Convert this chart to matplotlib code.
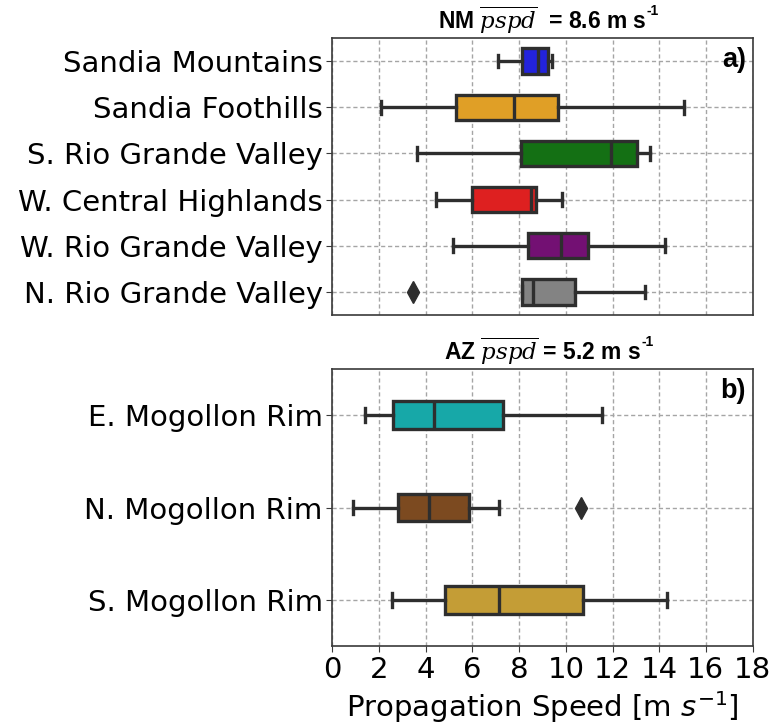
import matplotlib
matplotlib.use("Agg")
import matplotlib.pyplot as plt
from matplotlib import font_manager

# NM regions: whislo, q1, med, q3, whishi, outliers
nm_names = ['Sandia Mountains', 'Sandia Foothills', 'S. Rio Grande Valley',
            'W. Central Highlands', 'W. Rio Grande Valley', 'N. Rio Grande Valley']
nm_lo = [7.1, 2.07, 3.64, 4.42, 5.18, 8.13]
nm_q1 = [8.11, 5.31, 8.06, 5.97, 8.4, 8.13]
nm_med = [8.8, 7.8, 11.93, 8.51, 9.8, 8.58]
nm_q3 = [9.22, 9.67, 13.07, 8.71, 10.93, 10.4]
nm_hi = [9.39, 15.06, 13.61, 9.84, 14.25, 13.4]
nm_out = [[], [], [], [], [], [3.43]]
nm_colors = ['#2323dc', '#e09f26', '#147014', '#de2020', '#731073', '#838383']

az_names = ['E. Mogollon Rim', 'N. Mogollon Rim', 'S. Mogollon Rim']
az_lo = [1.38, 0.86, 2.54]
az_q1 = [2.6, 2.79, 4.81]
az_med = [4.37, 4.12, 7.12]
az_q3 = [7.3, 5.85, 10.72]
az_hi = [11.57, 7.13, 14.32]
az_out = [[], [10.65], []]
az_colors = ['#17a8a8', '#7c4a20', '#c49d36']

xticks = list(range(0, 19, 2))

# bold sans for titles / panel letters (avoid picking a narrow variant)
bold_path = None
for f in font_manager.fontManager.ttflist:
    if f.name == 'Liberation Sans' and f.weight in (700, 'bold') and f.style == 'normal':
        bold_path = f.fname
if bold_path is None:
    bold_path = font_manager.findfont(font_manager.FontProperties(family='Liberation Sans', weight='bold'))

fig = plt.figure(figsize=(7.75, 7.24), dpi=100)
ax1 = fig.add_axes([0.429, 0.565, 0.542, 0.3825])
ax2 = fig.add_axes([0.429, 0.1077, 0.542, 0.3826])


def draw(ax, names, lo, q1, med, q3, hi, out, colors, width):
    stats = []
    for i in range(len(names)):
        stats.append(dict(whislo=lo[i], q1=q1[i], med=med[i], q3=q3[i],
                          whishi=hi[i], fliers=out[i]))
    pos = list(range(len(names)))
    lc = '#2e2e2e'
    bp = ax.bxp(stats, positions=pos, widths=width, vert=False, patch_artist=True,
                boxprops=dict(edgecolor=lc, linewidth=2.4),
                medianprops=dict(color=lc, linewidth=2.4),
                whiskerprops=dict(color=lc, linewidth=2.4),
                capprops=dict(color=lc, linewidth=2.4),
                flierprops=dict(marker='d', markerfacecolor=lc, markeredgecolor=lc,
                                markersize=11))
    for patch, c in zip(bp['boxes'], colors):
        patch.set_facecolor(c)
        patch.set_zorder(3)
    for k in ['medians', 'whiskers', 'caps', 'fliers']:
        for ln in bp[k]:
            ln.set_zorder(4)
    ax.set_ylim(len(names) - 0.5, -0.5)
    ax.set_yticks(pos)
    ax.set_yticklabels(names, fontsize=21)
    ax.set_xlim(0, 18)
    ax.set_xticks(xticks)
    ax.grid(True, linestyle=(0, (3, 2)), color='#a5a5a5', linewidth=1)
    ax.set_axisbelow(True)
    for s in ax.spines.values():
        s.set_color('#3a3a3a')
        s.set_linewidth(1.2)
    ax.tick_params(axis='both', length=4, color='#3a3a3a', pad=3)


draw(ax1, nm_names, nm_lo, nm_q1, nm_med, nm_q3, nm_hi, nm_out, nm_colors, 0.55)
draw(ax2, az_names, az_lo, az_q1, az_med, az_q3, az_hi, az_out, az_colors, 0.3)

ax1.set_xticklabels([])
ax1.tick_params(axis='x', length=0)
ax2.set_xticklabels([str(t) for t in xticks], fontsize=21)
ax2.set_xlabel(r'Propagation Speed [m $s^{-1}$]', fontsize=21, labelpad=4)


def title(ax, txt):
    fp = font_manager.FontProperties(fname=bold_path, size=16.5, math_fontfamily='dejavuserif')
    t = ax.set_title(txt, fontproperties=fp, pad=6)
    ax.annotate('-1', xy=(1.0, 0.6), xycoords=t, ha='left', va='bottom',
                fontproperties=font_manager.FontProperties(fname=bold_path, size=10))


title(ax1, r'NM $\overline{pspd}$  = 8.6 m s')
title(ax2, r'AZ $\overline{pspd}$ = 5.2 m s')

letter_fp = font_manager.FontProperties(fname=bold_path, size=19.5)
ax1.text(0.985, 0.92, 'a)', transform=ax1.transAxes, ha='right', va='center',
         fontproperties=letter_fp)
ax2.text(0.985, 0.92, 'b)', transform=ax2.transAxes, ha='right', va='center',
         fontproperties=letter_fp)

fig.savefig('out.png', dpi=100)
